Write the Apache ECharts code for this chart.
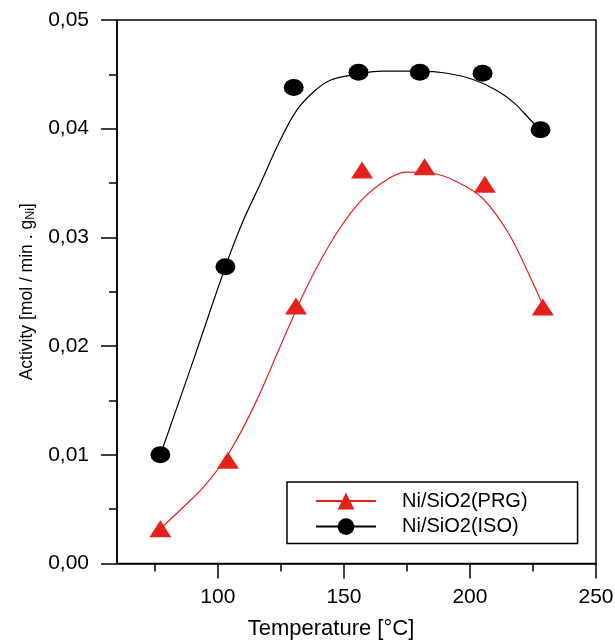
<!DOCTYPE html>
<html>
<head>
<meta charset="utf-8">
<script src="https://cdn.jsdelivr.net/npm/echarts@6/dist/echarts.min.js"></script>
<style>
html,body{margin:0;padding:0;background:#fff;}
#chart{width:615px;height:641px;}
</style>
</head>
<body>
<div id="chart"></div>
<script>
// Measured points
const isoT   = [77.2, 103, 130.1, 155.8, 180.1, 205, 228];
const isoAct = [0.0100, 0.0273, 0.0438, 0.0452, 0.0452, 0.0451, 0.0399];
const prgT   = [77.2, 104, 131, 157.2, 182, 205.9, 228.9];
const prgAct = [0.0032, 0.0095, 0.0237, 0.0362, 0.0365, 0.0349, 0.0236];

// Fitted curves
const isoFitT   = [77.2, 90, 103, 110, 117, 124, 131, 138, 145, 155, 165, 180, 191, 201.5, 210.8, 217.4, 225.3, 228];
const isoFitAct = [0.0100, 0.0185, 0.0273, 0.0315, 0.0350, 0.0386, 0.0416, 0.0434, 0.0445, 0.0450, 0.0453, 0.0453, 0.0451, 0.0445, 0.0435, 0.0424, 0.0405, 0.0400];
const prgFitT   = [77.2, 85, 95, 105, 115, 125, 135, 145, 155, 165, 175, 185, 195, 205, 215, 222, 229.3];
const prgFitAct = [0.0032, 0.0049, 0.0072, 0.0104, 0.0148, 0.0201, 0.0253, 0.0296, 0.0329, 0.0350, 0.0360, 0.0359, 0.0351, 0.0336, 0.0305, 0.0273, 0.0236];

// Axis ticks
const xMajorTicks = [100, 150, 200, 250];
const xMinorTicks = [75, 125, 175, 225];
const seriesNames = ['Ni/SiO2(PRG)', 'Ni/SiO2(ISO)'];

const RED = '#e6211b';
const BLACK = '#000000';
const FONT = '"Liberation Sans", Arial, Helvetica, sans-serif';

const zip = (a, b) => a.map((v, i) => [v, b[i]]);

const chart = echarts.init(document.getElementById('chart'), null, {renderer: 'canvas'});
const option = {
  animation: false,
  backgroundColor: '#fff',
  textStyle: {fontFamily: FONT},
  grid: {
    left: 117, right: 19, top: 20, bottom: 77.5,
    outerBoundsMode: 'none', containLabel: false,
    show: true, borderColor: BLACK, borderWidth: 1.5, backgroundColor: 'transparent'
  },
  legend: {
    orient: 'vertical',
    left: 287, top: 482,
    padding: [9, 50, 7, 28],
    itemWidth: 60, itemHeight: 21, itemGap: 5.6,
    borderColor: BLACK, borderWidth: 1.5,
    data: seriesNames,
    textStyle: {fontFamily: FONT, fontSize: 20, color: BLACK, padding: [0, 0, 0, 21]}
  },
  xAxis: [{
    type: 'value', min: 60, max: 250, position: 'bottom',
    name: 'Temperature [°C]', nameLocation: 'middle', nameGap: 54,
    nameTextStyle: {fontFamily: FONT, fontSize: 22, color: BLACK, padding: [0, 51, 0, 0]},
    axisLine: {onZero: false, lineStyle: {color: BLACK, width: 1.5}},
    axisTick: {show: true, customValues: xMajorTicks, length: 15, lineStyle: {color: BLACK, width: 1.5}},
    axisLabel: {customValues: xMajorTicks, margin: 23, fontFamily: FONT, fontSize: 21, color: BLACK},
    splitLine: {show: false}
  }, {
    type: 'value', min: 60, max: 250, position: 'bottom', gridIndex: 0,
    axisLine: {show: false, onZero: false},
    axisTick: {show: true, customValues: xMinorTicks, length: 8, lineStyle: {color: BLACK, width: 1.5}},
    axisLabel: {show: false},
    splitLine: {show: false}
  }],
  yAxis: {
    type: 'value', min: 0, max: 0.05, interval: 0.01,
    name: 'Activity [mol / min . g{sub|Ni}]', nameLocation: 'middle', nameGap: 80,
    nameTextStyle: {
      fontFamily: FONT, fontSize: 17.5, color: BLACK,
      rich: {sub: {fontFamily: FONT, fontSize: 12.5, color: BLACK, padding: [6, 0, 0, 0]}}
    },
    axisLine: {show: true, onZero: false, lineStyle: {color: BLACK, width: 1.5}},
    axisTick: {show: true, length: 16, lineStyle: {color: BLACK, width: 1.5}},
    minorTick: {show: true, splitNumber: 2, length: 8, lineStyle: {color: BLACK, width: 1.5}},
    axisLabel: {
      margin: 28, fontFamily: FONT, fontSize: 21, color: BLACK,
      formatter: v => v.toFixed(2).replace('.', ',')
    },
    splitLine: {show: false},
    minorSplitLine: {show: false}
  },
  series: [{
    name: seriesNames[0], type: 'line', xAxisIndex: 0, z: 2,
    data: zip(prgFitT, prgFitAct), smooth: 0.35,
    symbol: 'triangle', showSymbol: false,
    lineStyle: {color: RED, width: 1.2},
    itemStyle: {color: RED}
  }, {
    name: seriesNames[1], type: 'line', xAxisIndex: 0, z: 2,
    data: zip(isoFitT, isoFitAct), smooth: 0.35,
    symbol: 'circle', showSymbol: false,
    lineStyle: {color: BLACK, width: 1.2},
    itemStyle: {color: BLACK}
  }, {
    name: 'PRG points', type: 'scatter', xAxisIndex: 0, z: 3,
    data: zip(prgT, prgAct), symbol: 'triangle', symbolSize: [22, 17],
    itemStyle: {color: RED, opacity: 1}
  }, {
    name: 'ISO points', type: 'scatter', xAxisIndex: 0, z: 3,
    data: zip(isoT, isoAct), symbol: 'circle', symbolSize: [20, 17],
    itemStyle: {color: BLACK, opacity: 1}
  }]
};
chart.setOption(option);
</script>
</body>
</html>
